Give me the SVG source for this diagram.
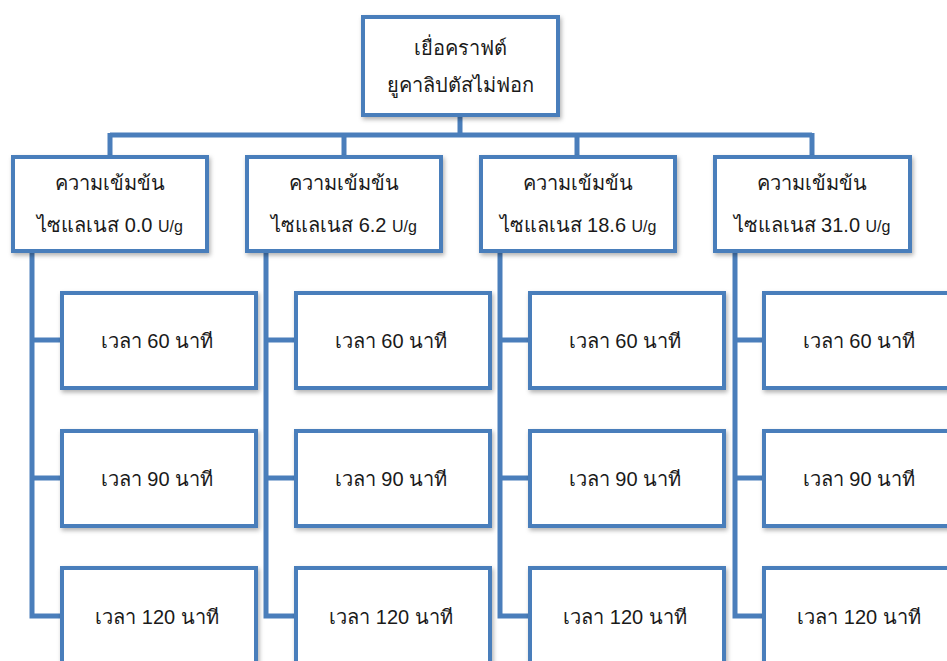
<svg xmlns="http://www.w3.org/2000/svg" width="947" height="661" viewBox="0 0 947 661">
<defs>
<filter id="sh" x="-10%" y="-10%" width="125%" height="130%">
<feDropShadow dx="1.5" dy="2.5" stdDeviation="2" flood-color="#000" flood-opacity="0.3"/>
</filter>
<style>
.box{fill:#fff;stroke:#4a7ebb;stroke-width:4;filter:url(#sh)}
.c{fill:none;stroke:#4a7ebb;stroke-width:5;stroke-linejoin:miter}
text{font-family:"Liberation Sans","Noto Sans",sans-serif;font-size:20px;fill:#1a1a1a;text-anchor:middle}
.s{font-size:16px}
</style>
</defs>
<rect width="947" height="661" fill="#fff"/>
<g id="connectors">
<path class="c" d="M460 115V135M110 135H812M110 133V157M344 133V157M577 133V157M812 133V157"/>
<path class="c" d="M32 251V616H62M32 340H62M32 478H62"/>
<path class="c" d="M266 251V616H296M266 340H296M266 478H296"/>
<path class="c" d="M500 251V616H530M500 340H530M500 478H530"/>
<path class="c" d="M735 251V616H764M735 340H764M735 478H764"/>
</g>
<g id="root"><rect class="box" x="363" y="17" width="195" height="98"/><text x="460" y="55">เยื่อคราฟต์</text><text x="460" y="92">ยูคาลิปตัสไม่ฟอก</text></g>
<g id="c1"><rect class="box" x="13" y="157" width="194" height="94"/><text x="110" y="190">ความเข้มข้น</text><text x="110" y="232">ไซแลเนส 0.0 <tspan class="s">U/g</tspan></text></g>
<g id="c2"><rect class="box" x="247" y="157" width="194" height="94"/><text x="344" y="190">ความเข้มข้น</text><text x="344" y="232">ไซแลเนส 6.2 <tspan class="s">U/g</tspan></text></g>
<g id="c3"><rect class="box" x="481" y="157" width="194" height="94"/><text x="578" y="190">ความเข้มข้น</text><text x="578" y="232">ไซแลเนส 18.6 <tspan class="s">U/g</tspan></text></g>
<g id="c4"><rect class="box" x="715" y="157" width="195" height="94"/><text x="812" y="190">ความเข้มข้น</text><text x="812" y="232">ไซแลเนส 31.0 <tspan class="s">U/g</tspan></text></g>
<g id="l1a"><rect class="box" x="62" y="293" width="194" height="95"/><text x="157" y="348">เวลา 60 นาที</text></g>
<g id="l1b"><rect class="box" x="62" y="431" width="194" height="95"/><text x="157" y="486">เวลา 90 นาที</text></g>
<g id="l1c"><rect class="box" x="62" y="568" width="194" height="100"/><text x="157" y="624">เวลา 120 นาที</text></g>
<g id="l2a"><rect class="box" x="296" y="293" width="194" height="95"/><text x="391" y="348">เวลา 60 นาที</text></g>
<g id="l2b"><rect class="box" x="296" y="431" width="194" height="95"/><text x="391" y="486">เวลา 90 นาที</text></g>
<g id="l2c"><rect class="box" x="296" y="568" width="194" height="100"/><text x="391" y="624">เวลา 120 นาที</text></g>
<g id="l3a"><rect class="box" x="530" y="293" width="194" height="95"/><text x="625" y="348">เวลา 60 นาที</text></g>
<g id="l3b"><rect class="box" x="530" y="431" width="194" height="95"/><text x="625" y="486">เวลา 90 นาที</text></g>
<g id="l3c"><rect class="box" x="530" y="568" width="194" height="100"/><text x="625" y="624">เวลา 120 นาที</text></g>
<g id="l4a"><rect class="box" x="764" y="293" width="194" height="95"/><text x="859" y="348">เวลา 60 นาที</text></g>
<g id="l4b"><rect class="box" x="764" y="431" width="194" height="95"/><text x="859" y="486">เวลา 90 นาที</text></g>
<g id="l4c"><rect class="box" x="764" y="568" width="194" height="100"/><text x="859" y="624">เวลา 120 นาที</text></g>
</svg>
